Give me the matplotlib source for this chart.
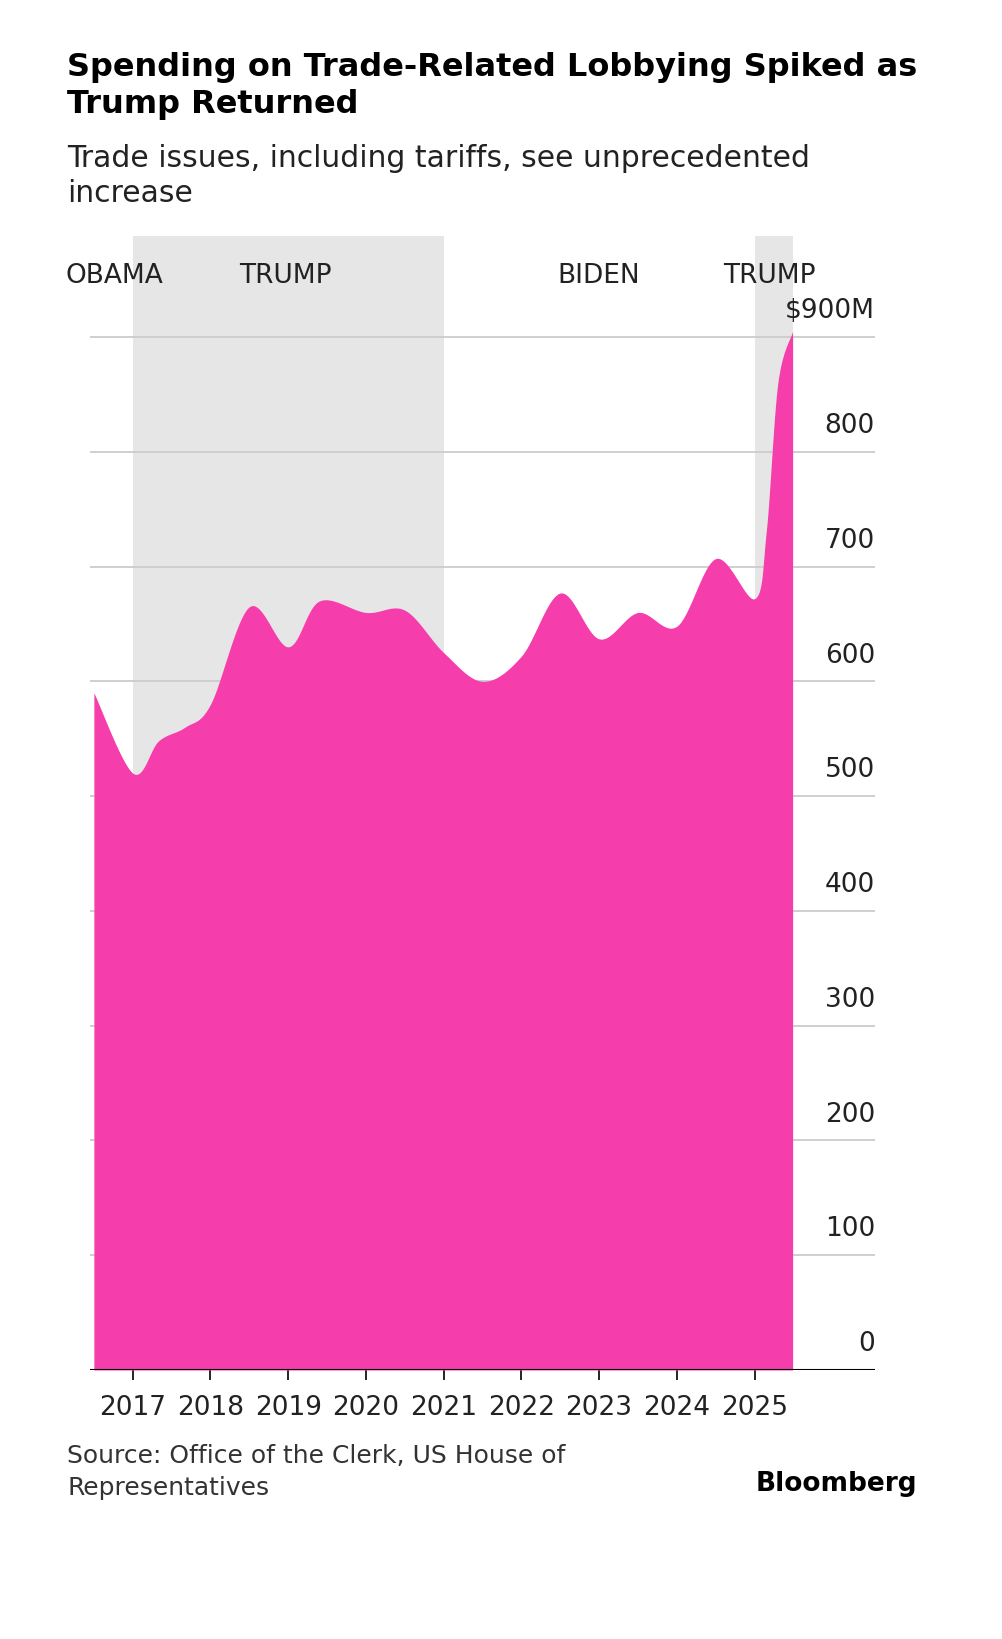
import matplotlib
matplotlib.use("Agg")
import matplotlib.pyplot as plt
import numpy as np

years = [2016.5, 2017.0, 2017.33, 2017.67, 2018.0, 2018.5, 2019.0, 2019.4, 2020.0, 2020.5,
         2021.0, 2021.5, 2022.0, 2022.5, 2023.0, 2023.5, 2024.0, 2024.5, 2025.0, 2025.15, 2025.3, 2025.49]
spend = [590, 520, 548, 560, 580, 665, 630, 670, 660, 662,
         625, 600, 622, 677, 637, 660, 648, 707, 672, 730, 860, 905]
trump_terms = [(2017.0, 2021.0), (2025.0, 2025.49)]
era_labels = [("OBAMA", 2016.14), ("TRUMP", 2018.37), ("BIDEN", 2022.46), ("TRUMP", 2024.6)]
yticks = [0, 100, 200, 300, 400, 500, 600, 700, 800, 900]
xticks = list(range(2017, 2026))

def catmull(x, y, n=20):
    x = np.array(x); y = np.array(y, float)
    px = np.concatenate([[x[0]], x, [x[-1]]]); py = np.concatenate([[y[0]], y, [y[-1]]])
    ox, oy = [], []
    for i in range(1, len(px) - 2):
        t = np.linspace(0, 1, n, endpoint=False)
        for arr, out in ((px, ox), (py, oy)):
            p0, p1, p2, p3 = arr[i-1], arr[i], arr[i+1], arr[i+2]
            out.extend(0.5*((2*p1) + (-p0+p2)*t + (2*p0-5*p1+4*p2-p3)*t**2 + (-p0+3*p1-3*p2+p3)*t**3))
    ox.append(x[-1]); oy.append(y[-1])
    return np.array(ox), np.array(oy)

fig = plt.figure(figsize=(10.02, 16.4), dpi=100)
ax = fig.add_axes([90/1002, 1 - 1371/1640, 785/1002, (1371-237)/1640])
ax.set_xlim(2016.45, 2026.55)
ax.set_ylim(0, 988)
for a, b in trump_terms:
    ax.axvspan(a, b, color="#e6e6e6", lw=0, zorder=0)
for t in yticks[1:]:
    ax.axhline(t, color="#cccccc", lw=1.3, zorder=1)
sx, sy = catmull(years, spend)
ax.fill_between(sx, 0, sy, color="#f53dab", lw=0, zorder=2)
ax.axhline(0, color="black", lw=1.5, zorder=3)
for s in ax.spines.values():
    s.set_visible(False)
ax.set_yticks([])
ax.set_xticks(xticks)
ax.set_xticklabels([str(x) for x in xticks], fontsize=19, color="#222")
ax.tick_params(axis="x", length=7, width=1.2, pad=10)
for t in yticks:
    lab = "$900M" if t == 900 else str(t)
    ax.text(2026.55, t + 12, lab, ha="right", va="bottom", fontsize=19, color="#222")
for lab, x in era_labels:
    ax.text(x, 965, lab, ha="left", va="top", fontsize=19, color="#222", clip_on=False)

fig.text(67/1002, 1 - 86/1640, "Spending on Trade-Related Lobbying Spiked as\nTrump Returned",
         fontsize=23, fontweight="bold", va="center", ha="left", linespacing=1.25)
fig.text(67/1002, 1 - 176/1640, "Trade issues, including tariffs, see unprecedented\nincrease",
         fontsize=21.5, va="center", ha="left", color="#222", linespacing=1.3)
fig.text(67/1002, 1 - 1472/1640, "Source: Office of the Clerk, US House of\nRepresentatives",
         fontsize=18, va="center", ha="left", color="#333", linespacing=1.4)
fig.text(917/1002, 1 - 1484/1640, "Bloomberg", fontsize=19, fontweight="bold", ha="right", va="center")
fig.savefig("out.png", dpi=100)
